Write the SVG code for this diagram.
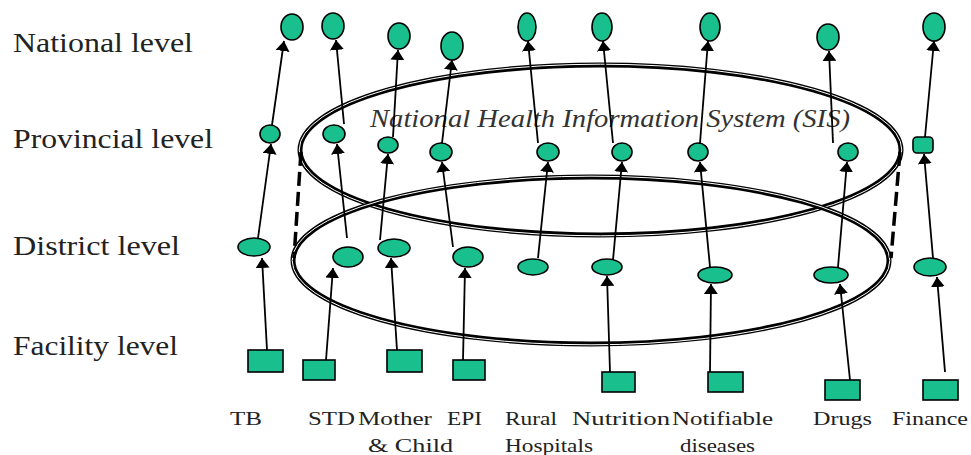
<svg xmlns="http://www.w3.org/2000/svg" width="971" height="455" viewBox="0 0 971 455">
<style>
.lvl{font-family:"Liberation Serif","Times New Roman",serif;font-size:27px;fill:#222;}
.lab{font-family:"Liberation Serif","Times New Roman",serif;font-size:19px;fill:#222;}
.sis{font-family:"Liberation Serif","Times New Roman",serif;font-style:italic;font-size:26px;fill:#333;}
.n{fill:#19bf8c;stroke:#000;stroke-width:1.6;}
.c{stroke:#000;stroke-width:1.8;fill:none;marker-end:url(#ah);}
.ring{fill:none;stroke:#000;stroke-width:5;}
.gap{fill:none;stroke:#fff;stroke-width:1;}
.dash{stroke:#000;stroke-width:3.5;stroke-dasharray:14 6;fill:none;}
</style>
<defs>
<marker id="ah" markerUnits="userSpaceOnUse" viewBox="0 0 10 14" refX="10" refY="7" markerWidth="10" markerHeight="14" orient="auto">
<path d="M0,0 L10,7 L0,14 z" fill="#000"/>
</marker>
</defs>
<rect width="971" height="455" fill="#fff"/>
<g id="levels">
<text class="lvl" x="13" y="52" textLength="180" lengthAdjust="spacingAndGlyphs">National level</text>
<text class="lvl" x="13" y="148" textLength="200" lengthAdjust="spacingAndGlyphs">Provincial level</text>
<text class="lvl" x="13" y="255" textLength="167" lengthAdjust="spacingAndGlyphs">District level</text>
<text class="lvl" x="13" y="355" textLength="165" lengthAdjust="spacingAndGlyphs">Facility level</text>
</g>
<g id="sis-rings">
<ellipse class="ring" cx="600.5" cy="150" rx="300.5" ry="85"/>
<ellipse class="gap" cx="600.5" cy="150" rx="301.3" ry="85.8"/>
<ellipse class="ring" cx="591" cy="260.5" rx="298" ry="83.5"/>
<ellipse class="gap" cx="591" cy="260.5" rx="298.8" ry="84.3"/>
<line class="dash" x1="301" y1="152" x2="294" y2="258"/>
<line class="dash" x1="900" y1="152" x2="891" y2="258"/>
<text class="sis" x="370" y="127" textLength="480" lengthAdjust="spacingAndGlyphs">National Health Information System (SIS)</text>
</g>
<g id="connectors">
<line class="c" x1="267" y1="350" x2="262" y2="258"/>
<line class="c" x1="258" y1="238" x2="271" y2="144"/>
<line class="c" x1="272" y1="125" x2="284" y2="41"/>
<line class="c" x1="326" y1="360" x2="333" y2="268"/>
<line class="c" x1="347" y1="238" x2="337" y2="144"/>
<line class="c" x1="344" y1="124" x2="336" y2="40"/>
<line class="c" x1="397" y1="350" x2="391" y2="258"/>
<line class="c" x1="380" y1="240" x2="388" y2="154"/>
<line class="c" x1="393" y1="137" x2="398" y2="50"/>
<line class="c" x1="463" y1="360" x2="465" y2="268"/>
<line class="c" x1="453" y1="247" x2="442" y2="162"/>
<line class="c" x1="442" y1="143" x2="452" y2="60"/>
<line class="c" x1="538" y1="258" x2="548" y2="162"/>
<line class="c" x1="538" y1="143" x2="528" y2="41"/>
<line class="c" x1="610" y1="372" x2="607" y2="276"/>
<line class="c" x1="613" y1="260" x2="622" y2="162"/>
<line class="c" x1="613" y1="143" x2="603" y2="41"/>
<line class="c" x1="710" y1="372" x2="711" y2="284"/>
<line class="c" x1="710" y1="267" x2="700" y2="162"/>
<line class="c" x1="700" y1="143" x2="708" y2="41"/>
<line class="c" x1="850" y1="380" x2="840" y2="284"/>
<line class="c" x1="838" y1="267" x2="847" y2="162"/>
<line class="c" x1="833" y1="143" x2="829" y2="51"/>
<line class="c" x1="945" y1="372" x2="937" y2="277"/>
<line class="c" x1="933" y1="258" x2="924" y2="154"/>
<line class="c" x1="925" y1="137" x2="934" y2="41"/>
</g>
<g id="national">
<ellipse class="n" cx="292" cy="27" rx="11" ry="13"/>
<ellipse class="n" cx="333" cy="26" rx="11" ry="13"/>
<ellipse class="n" cx="399" cy="36" rx="11" ry="13"/>
<ellipse class="n" cx="452" cy="46" rx="11" ry="14"/>
<ellipse class="n" cx="527" cy="27" rx="9" ry="14"/>
<ellipse class="n" cx="602" cy="27" rx="10" ry="14"/>
<ellipse class="n" cx="710" cy="27" rx="10" ry="14"/>
<ellipse class="n" cx="828" cy="37" rx="11" ry="13"/>
<ellipse class="n" cx="934" cy="27" rx="11" ry="14"/>
</g>
<g id="provincial">
<ellipse class="n" cx="270" cy="134" rx="10" ry="9"/>
<ellipse class="n" cx="334" cy="134" rx="11" ry="9"/>
<ellipse class="n" cx="388" cy="145" rx="10" ry="8"/>
<ellipse class="n" cx="441" cy="152" rx="11" ry="9"/>
<ellipse class="n" cx="548" cy="152" rx="11" ry="9"/>
<ellipse class="n" cx="622" cy="152" rx="10" ry="9"/>
<ellipse class="n" cx="698" cy="152" rx="10" ry="9"/>
<ellipse class="n" cx="848" cy="152" rx="10" ry="9"/>
<rect class="n" x="913" y="137" width="20" height="16" rx="4"/>
</g>
<g id="district">
<ellipse class="n" cx="254" cy="247" rx="16" ry="9"/>
<ellipse class="n" cx="348" cy="257" rx="15" ry="10"/>
<ellipse class="n" cx="394" cy="248" rx="16" ry="9"/>
<ellipse class="n" cx="468" cy="257" rx="15" ry="10"/>
<ellipse class="n" cx="533" cy="267" rx="15" ry="8"/>
<ellipse class="n" cx="607" cy="267" rx="15" ry="8"/>
<ellipse class="n" cx="715" cy="275" rx="17" ry="8"/>
<ellipse class="n" cx="831" cy="275" rx="17" ry="8"/>
<ellipse class="n" cx="930" cy="267" rx="16" ry="9"/>
</g>
<g id="facility">
<rect class="n" x="248" y="350" width="35" height="22"/>
<rect class="n" x="303" y="360" width="32" height="20"/>
<rect class="n" x="387" y="350" width="35" height="22"/>
<rect class="n" x="453" y="360" width="32" height="20"/>
<rect class="n" x="602" y="372" width="33" height="20"/>
<rect class="n" x="708" y="372" width="35" height="20"/>
<rect class="n" x="825" y="380" width="35" height="20"/>
<rect class="n" x="923" y="380" width="35" height="20"/>
</g>
<g id="programme-labels">
<text class="lab" x="230" y="425" textLength="32" lengthAdjust="spacingAndGlyphs">TB</text>
<text class="lab" x="308" y="425" textLength="47" lengthAdjust="spacingAndGlyphs">STD</text>
<text class="lab" x="358" y="425" textLength="74" lengthAdjust="spacingAndGlyphs">Mother</text>
<text class="lab" x="368" y="452" textLength="85" lengthAdjust="spacingAndGlyphs">&amp; Child</text>
<text class="lab" x="447" y="425" textLength="35" lengthAdjust="spacingAndGlyphs">EPI</text>
<text class="lab" x="505" y="425" textLength="52" lengthAdjust="spacingAndGlyphs">Rural</text>
<text class="lab" x="505" y="452" textLength="88" lengthAdjust="spacingAndGlyphs">Hospitals</text>
<text class="lab" x="572" y="425" textLength="98" lengthAdjust="spacingAndGlyphs">Nutrition</text>
<text class="lab" x="672" y="425" textLength="101" lengthAdjust="spacingAndGlyphs">Notifiable</text>
<text class="lab" x="680" y="452" textLength="75" lengthAdjust="spacingAndGlyphs">diseases</text>
<text class="lab" x="813" y="425" textLength="59" lengthAdjust="spacingAndGlyphs">Drugs</text>
<text class="lab" x="892" y="425" textLength="76" lengthAdjust="spacingAndGlyphs">Finance</text>
</g>
</svg>
